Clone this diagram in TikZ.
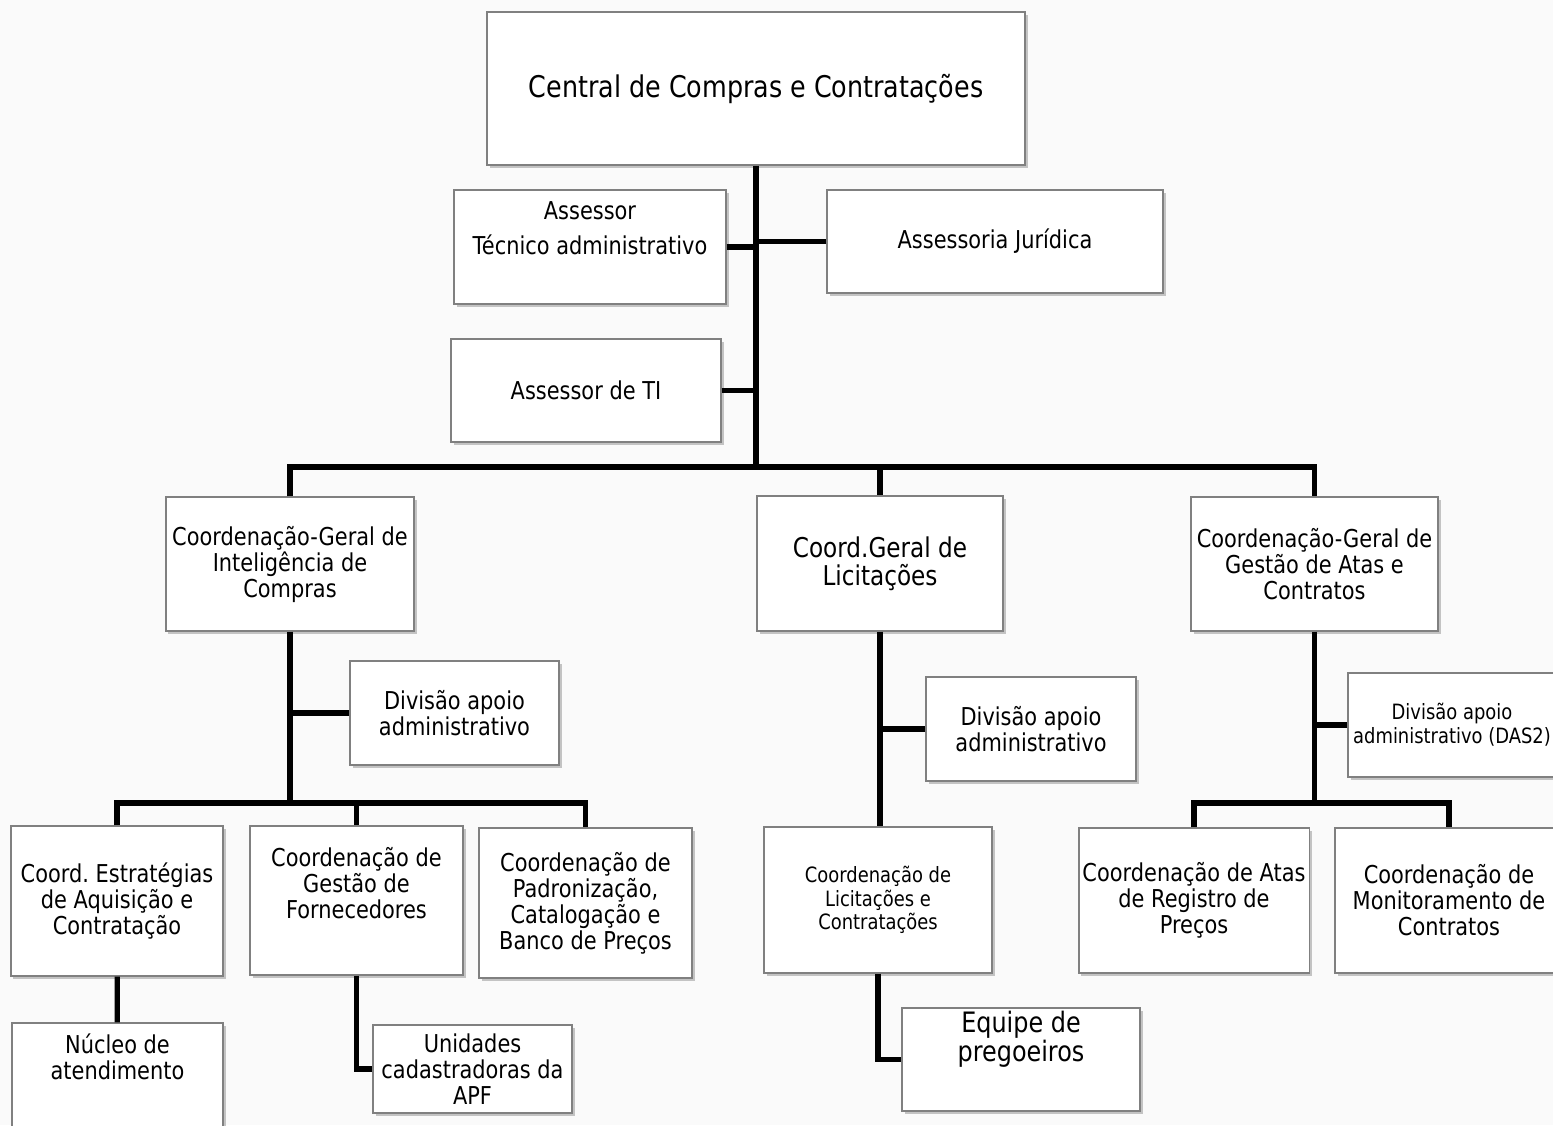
\documentclass[tikz,border=0pt]{standalone}
\usepackage{fontspec}
\setmainfont{DejaVu Sans}[FakeStretch=0.85]
\usetikzlibrary{shadows}
\definecolor{bgcol}{RGB}{250,250,250}
\definecolor{boxline}{RGB}{128,128,128}
\frenchspacing

\begin{document}
\begin{tikzpicture}[x=0.2mm, y=-0.2mm, font=\fontsize{14}{14.8}\selectfont,
block/.style={rectangle, draw=boxline, line width=0.6pt, fill=white, align=center, inner sep=2pt,
      drop shadow={shadow xshift=0.5mm, shadow yshift=-0.6mm, fill=black, opacity=0.22}},
txt/.style={align=center},
bigtext/.style={font=\fontsize{16}{16.5}\selectfont},
smalltext/.style={font=\fontsize{12}{13.5}\selectfont},
link/.style={line width=3pt}]
 \fill[bgcol] (0,0) rectangle (1553,1125);
 \useasboundingbox (0,0) rectangle (1553,1125);

 \node[block, font=\fontsize{17}{18}\selectfont, minimum width=107.6mm, minimum height=30.6mm] (central) at (756,88.5) {Central de Compras e Contratações};
 \node[block, minimum width=54.4mm, minimum height=22.8mm, label={[txt, yshift=3.7mm]center:{Assessor\\[5pt]Técnico administrativo}}] (asstec) at (590,247) {};
 \node[block, minimum width=67.2mm, minimum height=20.6mm] (assjur) at (995,241.5) {Assessoria Jurídica};
 \node[block, minimum width=54mm, minimum height=20.6mm] (assti) at (586,390.5) {Assessor de TI};

 \node[block, minimum width=49.6mm, minimum height=26.8mm] (cgint) at (290,564) {Coordenação-Geral de\\Inteligência de\\Compras};
 \node[block, font=\fontsize{15.5}{16}\selectfont, minimum width=49.2mm, minimum height=27mm] (cglic) at (880,563.5) {Coord.Geral de\\Licitações};
 \node[block, minimum width=49.4mm, minimum height=26.8mm] (cgatas) at (1314.5,564) {Coordenação-Geral de\\Gestão de Atas e\\Contratos};

 \node[block, minimum width=41.8mm, minimum height=20.8mm] (divint) at (454.5,713) {Divisão apoio\\administrativo};
 \node[block, minimum width=42mm, minimum height=20.8mm] (divlic) at (1031,729) {Divisão apoio\\administrativo};
 \node[block, smalltext, minimum width=41.6mm, minimum height=20.8mm] (divatas) at (1452,725) {Divisão apoio\\administrativo (DAS2)};

 \node[block, minimum width=42.4mm, minimum height=30mm] (estrat) at (117,901) {Coord. Estratégias\\de Aquisição e\\Contratação};
 \node[block, minimum width=42.6mm, minimum height=29.8mm, label={[txt, yshift=3.4mm]center:Coordenação de\\Gestão de\\Fornecedores}] (fornec) at (356.5,900.5) {};
 \node[block, minimum width=42.6mm, minimum height=30mm] (padron) at (585.5,903) {Coordenação de\\Padronização,\\Catalogação e\\Banco de Preços};
 \node[block, smalltext, minimum width=45.6mm, minimum height=29.2mm] (licit) at (878,900) {Coordenação de\\Licitações e\\Contratações};
 \node[block, minimum width=45.6mm, minimum height=29mm] (atas) at (1194,900.5) {Coordenação de Atas\\de Registro de\\Preços};
 \node[block, minimum width=45.6mm, minimum height=29mm] (monit) at (1449,900.5) {Coordenação de\\Monitoramento de\\Contratos};

 \node[block, minimum width=42.2mm, minimum height=23.4mm, label={[txt, yshift=4.9mm]center:Núcleo de\\atendimento}] (nucleo) at (117.5,1081.5) {};
 \node[block, minimum width=39.8mm, minimum height=17.6mm] (unid) at (472.5,1069) {Unidades\\cadastradoras da\\APF};
 \node[block, minimum width=47.6mm, minimum height=20.6mm, label={[txt, bigtext, yshift=4mm]center:Equipe de\\pregoeiros}] (pregoeiros) at (1021,1059.5) {};

 \coordinate (hub) at (756,467);
 \coordinate (hubint) at (290,803);
 \coordinate (hubatas) at (1314.5,803);

 \draw[link] (central) -- (hub);
 \draw[link] (asstec.east) -- (asstec.east -| hub);
 \draw[link] (assjur.west) -- (assjur.west -| hub);
 \draw[link] (assti.east) -- (assti.east -| hub);
 \draw[link] (cgint.north) |- (hub) -| (cgatas.north);
 \draw[link] (hub -| cglic.north) -- (cglic.north);

 \draw[link] (cgint) -- (hubint);
 \draw[link] (divint.west) -- (divint.west -| hubint);
 \draw[link] (estrat.north) |- (hubint) -| (padron.north);
 \draw[link] (hubint -| fornec.north) -- (fornec.north);
 \draw[link] (estrat) -- (nucleo);
 \draw[link] (fornec.south) |- (unid.west);

 \draw[link] (cglic.south) -- (cglic.south |- licit.north);
 \draw[link] (divlic.west) -- (divlic.west -| cglic.south);
 \draw[link] (licit.south) |- (pregoeiros.west);

 \draw[link] (cgatas) -- (hubatas);
 \draw[link] (divatas.west) -- (divatas.west -| hubatas);
 \draw[link] (atas.north) |- (hubatas) -| (monit.north);
\end{tikzpicture}
\end{document}
